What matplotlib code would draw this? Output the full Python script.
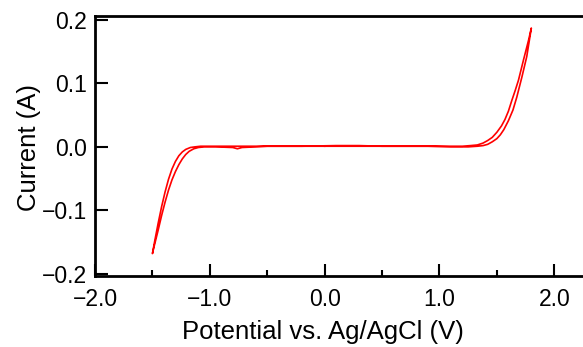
import matplotlib.pyplot as plt
from matplotlib.ticker import MultipleLocator

plt.rcParams['font.family'] = ['Liberation Sans', 'DejaVu Sans']

# Zyklovoltammogramm, Werte
# Hinweg (positiv), rechte Spur
anodic_v = [0.0, 0.3, 0.6, 0.9, 1.10, 1.25, 1.33, 1.38, 1.42, 1.46, 1.50, 1.53,
            1.56, 1.60, 1.64, 1.673, 1.718, 1.76, 1.80]
anodic_i = [0.001, 0.001, 0.001, 0.001, 0.000, 0.000, 0.001, 0.002, 0.004, 0.008,
            0.013, 0.019, 0.027, 0.041, 0.058, 0.078, 0.110, 0.142, 0.187]

# Rueckweg vom Umkehrpunkt 1.8 V bis -1.5 V
cathodic_v = [1.80, 1.776, 1.732, 1.688, 1.66, 1.63, 1.60, 1.57, 1.54, 1.50, 1.46,
              1.42, 1.38, 1.33, 1.27, 1.20, 0.9, 0.5, 0.3, 0.1, -0.2, -0.5, -0.60,
              -0.72, -0.76, -0.80, -0.95, -1.05, -1.10, -1.14, -1.18, -1.21, -1.24,
              -1.27, -1.30, -1.33, -1.36, -1.39, -1.42, -1.45, -1.49, -1.50]
cathodic_i = [0.187, 0.168, 0.137, 0.105, 0.089, 0.073, 0.056, 0.043, 0.033, 0.023,
              0.015, 0.010, 0.006, 0.003, 0.002, 0.001, 0.001, 0.001, 0.002, 0.002,
              0.001, 0.001, 0.000, -0.001, -0.003, -0.001, 0.000, 0.000, -0.001,
              -0.003, -0.007, -0.012, -0.019, -0.028, -0.039, -0.052, -0.068,
              -0.087, -0.108, -0.131, -0.160, -0.168]

# zurueck von -1.5 V nach 0 V, aeussere Spur
return_v = [-1.50, -1.48, -1.45, -1.42, -1.39, -1.36, -1.33, -1.30, -1.27, -1.24,
            -1.21, -1.17, -1.13, -1.08, -1.00, -0.90, -0.6, -0.3, 0.0]
return_i = [-0.168, -0.148, -0.120, -0.094, -0.071, -0.051, -0.035, -0.023, -0.014,
            -0.008, -0.004, -0.001, 0.000, 0.001, 0.001, 0.001, 0.001, 0.001, 0.001]

potential = anodic_v + cathodic_v + return_v
current = anodic_i + cathodic_i + return_i

fig = plt.figure(figsize=(5.83, 3.47), dpi=100)
ax = fig.add_axes([0.163, 0.205, 0.837, 0.749])

ax.plot(potential, current, color='red', linewidth=1.2)

ax.set_xlim(-2.0, 2.25)
ax.set_ylim(-0.203, 0.206)
ax.xaxis.set_major_locator(MultipleLocator(1.0))
ax.xaxis.set_minor_locator(MultipleLocator(0.5))
ax.yaxis.set_major_locator(MultipleLocator(0.1))
ax.xaxis.set_major_formatter(lambda v, p: f'{v:.1f}'.replace('-', '\u2212'))
ax.yaxis.set_major_formatter(lambda v, p: f'{v:.1f}'.replace('-', '\u2212'))

ax.spines['right'].set_visible(False)
for s in ['left', 'top', 'bottom']:
    ax.spines[s].set_linewidth(2.0)
ax.tick_params(which='major', direction='in', length=9, width=1.5, labelsize=16.5)
ax.tick_params(axis='x', pad=9)
ax.tick_params(axis='y', pad=6)
ax.tick_params(which='minor', direction='in', length=4, width=1.5)
ax.tick_params(top=False, right=False)

ax.set_xlabel('Potential vs. Ag/AgCl (V)', fontsize=18.5)
ax.set_ylabel('Current (A)', fontsize=18.5)
ax.xaxis.set_label_coords(0.467, -0.168)
ax.yaxis.set_label_coords(-0.11, 0.495)

fig.savefig('out.png', dpi=100)
